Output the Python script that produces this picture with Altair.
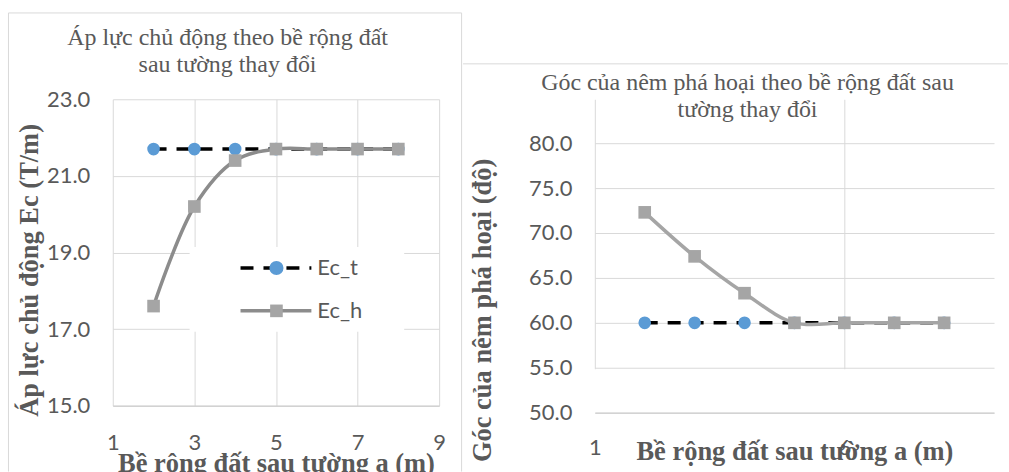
import altair as alt
import pandas as pd

# ---------------- data ----------------
a_values = [2, 3, 4, 5, 6, 7, 8]
ec_t = [21.7, 21.7, 21.7, 21.7, 21.7, 21.7, 21.7]
ec_h = [17.6, 20.2, 21.4, 21.7, 21.7, 21.7, 21.7]
goc_t = [60.0, 60.0, 60.0, 60.0, 60.0, 60.0, 60.0]
goc_h = [72.3, 67.4, 63.3, 60.0, 60.0, 60.0, 60.0]

left_x_ticks = [1, 3, 5, 7, 9]
left_y_ticks = [15, 17, 19, 21, 23]
right_x_ticks = [1, 6]
right_y_ticks = [50, 55, 60, 65, 70, 75, 80]
legend_labels = ["Ec_t", "Ec_h"]

left_title = ["Áp lực chủ động theo bề rộng đất", "sau tường thay đổi"]
right_title = ["Góc của nêm phá hoại theo bề rộng đất sau", "tường thay đổi"]
x_title = "Bề rộng đất sau tường a (m)"
left_y_title = "Áp lực chủ động Ec (T/m)"
right_y_title = "Góc của nêm phá hoại (độ)"

# ---------------- style ----------------
TEXT = "#595959"
GRID = "#d9d9d9"
AXIS = "#c8c8c8"
BLUE = "#5B9BD5"
GRAY_PT = "#A5A5A5"
SERIF = "Liberation Serif"
SANS = "Lato"
OY = 99  # common plot-origin row (page px)

one = pd.DataFrame({"k": [0]})


def rule(x, y, x2=None, y2=None, color=GRID, width=1, dash=None):
    enc = dict(x=alt.value(x), y=alt.value(y))
    if x2 is not None:
        enc["x2"] = alt.value(x2)
    if y2 is not None:
        enc["y2"] = alt.value(y2)
    kw = dict(color=color, strokeWidth=width)
    if dash is not None:
        kw["strokeDash"] = dash
    return alt.Chart(one).mark_rule(**kw).encode(**enc)


def text_line(txt, x, y, size, font=SERIF, align="center", weight="normal"):
    return alt.Chart(pd.DataFrame({"txt": [txt]})).mark_text(
        font=font, fontSize=size, color=TEXT, align=align, baseline="middle",
        fontWeight=weight).encode(text="txt:N", x=alt.value(x), y=alt.value(y))


def panel(t_vals, h_vals, y_dom, x_ticks, y_ticks, w, ox, top, bottom,
          cell_left, cell_right, title_lines, title_cx, title_ys,
          y_title, y_title_x, y_title_y, x_title_base, x_label_center,
          line_color, borders, legend):
    df = pd.DataFrame({"a": a_values, "t": t_vals, "h": h_vals})
    h = bottom - OY
    xs = alt.Scale(domain=[1, 9], nice=False, zero=False)
    ys = alt.Scale(domain=y_dom, nice=False, zero=False, range=[h, top - OY])
    xaxis = alt.Axis(values=x_ticks, title=x_title, grid=True, gridColor=GRID,
                     domain=True, domainColor=AXIS, ticks=False,
                     labelFlush=False, labelOverlap=False,
                     labelFont=SANS, labelFontSize=22, labelColor=TEXT,
                     labelPadding=x_label_center - bottom, labelBaseline="middle",
                     titleFont=SERIF, titleFontSize=26.5, titleFontWeight="bold",
                     titleColor=TEXT, titleY=x_title_base - bottom,
                     titleBaseline="alphabetic")
    yaxis = alt.Axis(values=y_ticks, format=".1f", title=y_title, grid=True,
                     gridColor=GRID, domain=False, ticks=False,
                     labelFont=SANS, labelFontSize=22, labelColor=TEXT,
                     labelPadding=23, labelFlush=False,
                     titleFont=SERIF, titleFontSize=26.5, titleFontWeight="bold",
                     titleColor=TEXT, titleAngle=270, titleX=y_title_x - ox,
                     titleY=y_title_y - OY, titleBaseline="middle", titleAlign="center")
    base = alt.Chart(df)
    x = alt.X("a:Q", scale=xs, axis=xaxis)
    t_line = base.mark_line(color="black", strokeWidth=3.5, strokeDash=[13, 10]).encode(
        x=x, y=alt.Y("t:Q", scale=ys, axis=yaxis))
    t_pts = base.mark_point(filled=True, shape="circle", size=160, color=BLUE, opacity=1).encode(
        x=x, y=alt.Y("t:Q", scale=ys, axis=yaxis))
    h_line = base.mark_line(color=line_color, strokeWidth=3.5, interpolate="catmull-rom").encode(
        x=x, y=alt.Y("h:Q", scale=ys, axis=yaxis))
    h_pts = base.mark_point(filled=True, shape="square", size=160, color=GRAY_PT, opacity=1).encode(
        x=x, y=alt.Y("h:Q", scale=ys, axis=yaxis))

    # invisible cell that fixes the panel's bounds
    cell = alt.Chart(one).mark_rect(opacity=0).encode(
        x=alt.value(cell_left - ox), x2=alt.value(cell_right - ox),
        y=alt.value(-OY), y2=alt.value(472 - OY))
    titles = [text_line(t, title_cx - ox, ty - OY, 24) for t, ty in zip(title_lines, title_ys)]
    layers = [cell] + borders + titles + legend[:1] + [t_line, t_pts, h_line, h_pts] + legend[1:]
    return alt.layer(*layers).properties(width=w, height=h)


# ---------------- left panel ----------------
LOX = 113
left_borders = [
    rule(8.5 - LOX, 12.5 - OY, y2=472 - OY),
    rule(8.5 - LOX, 12.5 - OY, x2=462.5 - LOX),
    rule(462.5 - LOX, 12.5 - OY, y2=472 - OY),
]
lx0, ly1, ly2 = 241 - LOX, 268 - OY, 311 - OY
leg_box = alt.Chart(one).mark_rect(color="white").encode(
    x=alt.value(190 - LOX), x2=alt.value(405 - LOX), y=alt.value(247 - OY), y2=alt.value(332 - OY))
leg_items = [
    rule(lx0, ly1, x2=lx0 + 71, color="black", width=3.5, dash=[13, 10]),
    alt.Chart(one).mark_point(filled=True, shape="circle", size=200, color=BLUE, opacity=1).encode(
        x=alt.value(lx0 + 36), y=alt.value(ly1)),
    rule(lx0, ly2, x2=lx0 + 71, color="#8c8c8c", width=3.5),
    alt.Chart(one).mark_point(filled=True, shape="square", size=160, color=GRAY_PT, opacity=1).encode(
        x=alt.value(lx0 + 36), y=alt.value(ly2)),
]
leg_text = [text_line(lab, 318 - LOX, yy, 22, font=SANS, align="left")
            for lab, yy in zip(legend_labels, [ly1, ly2])]
left = panel(ec_t, ec_h, [15, 23], left_x_ticks, left_y_ticks, 327, LOX, 99, 406,
             0, 463, left_title, 228, [38, 65],
             left_y_title, 30, 270, 472, 443,
             "#8c8c8c", left_borders, [leg_box] + leg_items + leg_text)

# ---------------- right panel ----------------
ROX = 595
right_borders = [
    rule(463 - ROX, 63.5 - OY, x2=1009 - ROX),
]
right = panel(goc_t, goc_h, [50, 80], right_x_ticks, right_y_ticks, 400, ROX, 143, 413,
              463, 1009, right_title, 748, [83, 110],
              right_y_title, 482, 310, 460, 448,
              GRAY_PT, right_borders, [])

chart = alt.hconcat(left, right, spacing=0).properties(
    padding=0, background="white"
).configure_view(strokeWidth=0)

chart.save("out.html", embed_options={"renderer": "svg", "actions": False})
